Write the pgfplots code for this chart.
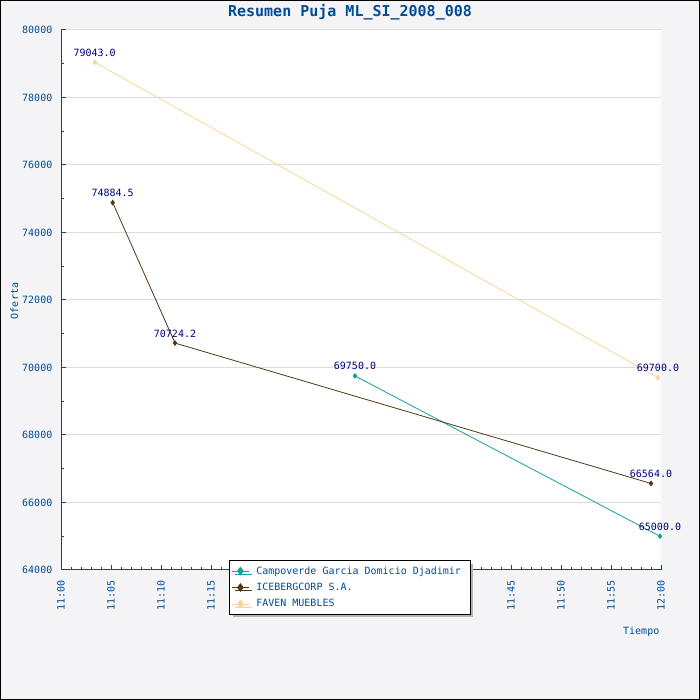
\documentclass[border=0pt]{standalone}
\usepackage{fontspec}
\usepackage{pgfplots}
\pgfplotsset{compat=1.18}
\usetikzlibrary{shadows}
\newfontfamily\mono{DejaVu Sans Mono}
\definecolor{bgc}{RGB}{244,244,246}
\definecolor{axc}{RGB}{0,76,150}
\definecolor{lblc}{RGB}{0,0,128}
\definecolor{campo}{RGB}{20,160,155}
\definecolor{ice}{RGB}{85,55,20}
\definecolor{faven}{RGB}{250,214,150}
\definecolor{gridc}{RGB}{220,220,220}
\newcommand{\tf}{\mono\fontsize{10bp}{12bp}\selectfont}
\begin{document}
\begin{tikzpicture}
\fill[bgc] (0,0) rectangle (700bp,700bp);
\draw[black,line width=1bp] (0.5bp,0.5bp) rectangle (699.5bp,699.5bp);
\begin{axis}[
  at={(61bp,130bp)}, anchor=south west,
  scale only axis, width=600bp, height=540bp,
  xmin=0, xmax=60, ymin=64000, ymax=80000,
  scaled y ticks=false, scaled x ticks=false,
  clip=false,
  axis background/.style={fill=white},
  axis x line*=bottom, axis y line*=left,
  axis line style={axc, line width=1bp},
  every tick/.style={axc, line width=1bp},
  major tick length=5bp, minor tick length=3bp,
  xtick={0,5,...,60},
  xticklabels={11:00,11:05,11:10,11:15,11:20,11:25,11:30,11:35,11:40,11:45,11:50,11:55,12:00},
  minor x tick num=4,
  ytick={64000,66000,...,80000},
  yticklabels={64000,66000,68000,70000,72000,74000,76000,78000,80000},
  minor y tick num=1,
  ymajorgrids, grid style={gridc, line width=1bp},
  xticklabel style={yshift=-10bp, rotate=90, anchor=east, inner sep=0pt, font=\tf, text=axc},
  yticklabel style={anchor=east, inner sep=0pt, xshift=-8.5bp, font=\tf, text=axc},
  nodes near coords,
  point meta=explicit symbolic,
  nodes near coords style={font=\tf, text=lblc, anchor=south, inner sep=0.5bp, yshift=5bp},
  legend cell align=left,
  legend style={at={(0.28,0.0185)}, anchor=north west, draw=black, line width=1bp,
    fill=white, font=\tf, text=axc,
    drop shadow={shadow xshift=3bp, shadow yshift=-3bp, fill=black!30, opacity=1},
    inner xsep=2bp, inner ysep=4bp, row sep=3.5bp,
    nodes={inner xsep=7bp, inner ysep=2bp}},
  legend image post style={mark size=3.8bp},
]
\addplot[campo, line width=0.8bp, mark=diamond*, mark size=2.3bp] coordinates {
  (29.4,69750) [69750.0]
  (59.9,65000) [65000.0]
};
\addlegendentry{Campoverde Garcia Domicio Djadimir}
\addplot[ice, line width=0.8bp, mark=diamond*, mark size=2.3bp] coordinates {
  (5.17,74884.5) [74884.5]
  (11.4,70724.2) [70724.2]
  (59.0,66564.0) [66564.0]
};
\addlegendentry{ICEBERGCORP S.A.}
\addplot[faven, line width=0.8bp, mark=diamond*, mark size=2.3bp] coordinates {
  (3.37,79043) [79043.0]
  (59.7,69700) [69700.0]
};
\addlegendentry{FAVEN MUEBLES}
\end{axis}
\node[anchor=base, inner sep=0pt, text=axc, font={\mono\bfseries\fontsize{15bp}{18bp}\selectfont}] at (350bp,683bp) {Resumen Puja ML\_SI\_2008\_008};
\node[rotate=90, inner sep=0pt, text=axc, font=\tf] at (14.5bp,399bp) {Oferta};
\node[anchor=base east, inner sep=0pt, text=axc, font=\tf] at (659.5bp,65bp) {Tiempo};
\end{tikzpicture}
\end{document}
